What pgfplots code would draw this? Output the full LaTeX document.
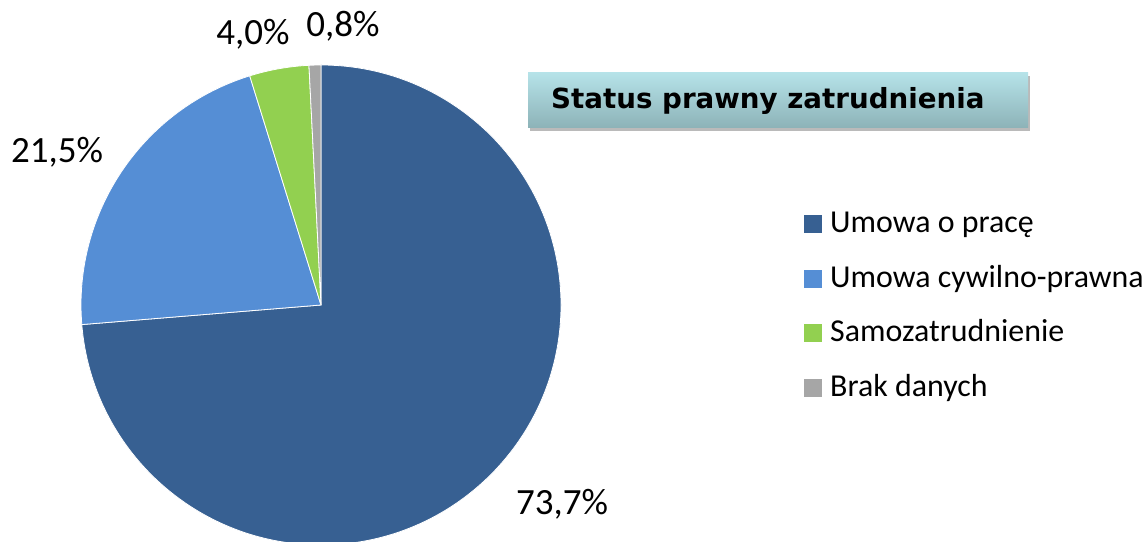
\documentclass[border=0pt]{standalone}
\usepackage{fontspec}
\setmainfont{Carlito}
\newfontfamily\titlefont{DejaVu Sans}
\usepackage{pgfplots}
\usepackage{pgfplotstable}
\pgfplotsset{compat=1.18}
\usetikzlibrary{shadows}

\definecolor{cA}{HTML}{376092}
\definecolor{cB}{HTML}{558ED5}
\definecolor{cC}{HTML}{92D050}
\definecolor{cD}{HTML}{A6A6A6}
\definecolor{ttop}{HTML}{B6E3E9}
\definecolor{tbot}{HTML}{8DB3B8}

\pgfplotstableread[col sep=comma]{
label,value
Umowa o pracę,73.7
Umowa cywilno-prawna,21.5
Samozatrudnienie,4.0
Brak danych,0.8
}\piedata

\pgfplotstablegetelem{0}{value}\of\piedata \let\vA\pgfplotsretval
\pgfplotstablegetelem{1}{value}\of\piedata \let\vB\pgfplotsretval
\pgfplotstablegetelem{2}{value}\of\piedata \let\vC\pgfplotsretval
\pgfplotstablegetelem{3}{value}\of\piedata \let\vD\pgfplotsretval
\pgfplotstablegetelem{0}{label}\of\piedata \let\lA\pgfplotsretval
\pgfplotstablegetelem{1}{label}\of\piedata \let\lB\pgfplotsretval
\pgfplotstablegetelem{2}{label}\of\piedata \let\lC\pgfplotsretval
\pgfplotstablegetelem{3}{label}\of\piedata \let\lD\pgfplotsretval
\pgfmathsetmacro\aA{90-3.6*\vA}
\pgfmathsetmacro\aB{\aA-3.6*\vB}
\pgfmathsetmacro\aC{\aB-3.6*\vC}
\pgfmathsetmacro\aD{\aC-3.6*\vD}

\newcommand\pct[1]{\pgfmathprintnumber[fixed,precision=1,fixed zerofill,use comma,assume math mode=true]{#1}\%}

\begin{document}
\begin{tikzpicture}
\begin{axis}[
  width=1148bp, height=542bp, scale only axis,
  xmin=0, xmax=1148, ymin=0, ymax=542,
  hide axis, clip=true,
]
\def\cx{321}\def\cy{237}\def\R{240bp}
\filldraw[fill=cA, draw=white, line width=0.8bp, line join=round]
  (axis cs:\cx,\cy) -- ++(90:\R) arc[start angle=90, end angle=\aA, radius=\R] -- cycle;
\filldraw[fill=cB, draw=white, line width=0.8bp, line join=round]
  (axis cs:\cx,\cy) -- ++(\aA:\R) arc[start angle=\aA, end angle=\aB, radius=\R] -- cycle;
\filldraw[fill=cC, draw=white, line width=0.8bp, line join=round]
  (axis cs:\cx,\cy) -- ++(\aB:\R) arc[start angle=\aB, end angle=\aC, radius=\R] -- cycle;
\filldraw[fill=cD, draw=white, line width=0.8bp, line join=round]
  (axis cs:\cx,\cy) -- ++(\aC:\R) arc[start angle=\aC, end angle=\aD, radius=\R] -- cycle;

% data labels
\begin{scope}[every node/.style={inner sep=0pt, anchor=base, font=\fontsize{37bp}{44bp}\selectfont}]
\node at (axis cs:562,28) {\pct{\vA}};
\node at (axis cs:57,379) {\pct{\vB}};
\node at (axis cs:253,497) {\pct{\vC}};
\node at (axis cs:343,505) {\pct{\vD}};
\end{scope}

% title box
\node[anchor=north west, minimum width=500bp, minimum height=55bp, inner sep=0pt,
      top color=ttop, bottom color=tbot,
      drop shadow={shadow xshift=2bp, shadow yshift=-4bp, fill=black!60, opacity=0.45}]
  at (axis cs:528,470) {};
\node[anchor=west, inner sep=0pt, font=\titlefont\bfseries\fontsize{27.7bp}{32bp}\selectfont]
  at (axis cs:551,441) {Status prawny zatrudnienia};

% legend
\begin{scope}[every node/.style={inner sep=0pt, anchor=base west, font=\fontsize{31.9bp}{36bp}\selectfont}]
\fill[cA] (axis cs:804,309) rectangle (axis cs:822,327);
\node at (axis cs:830,309) {\lA};
\fill[cB] (axis cs:804,254) rectangle (axis cs:822,272);
\node at (axis cs:830,254) {\lB};
\fill[cC] (axis cs:804,200) rectangle (axis cs:822,218);
\node at (axis cs:830,200) {\lC};
\fill[cD] (axis cs:804,145) rectangle (axis cs:822,163);
\node at (axis cs:830,145) {\lD};
\end{scope}
\end{axis}
\pgfresetboundingbox
\useasboundingbox (current axis.south west) rectangle (current axis.north east);
\end{tikzpicture}
\end{document}
